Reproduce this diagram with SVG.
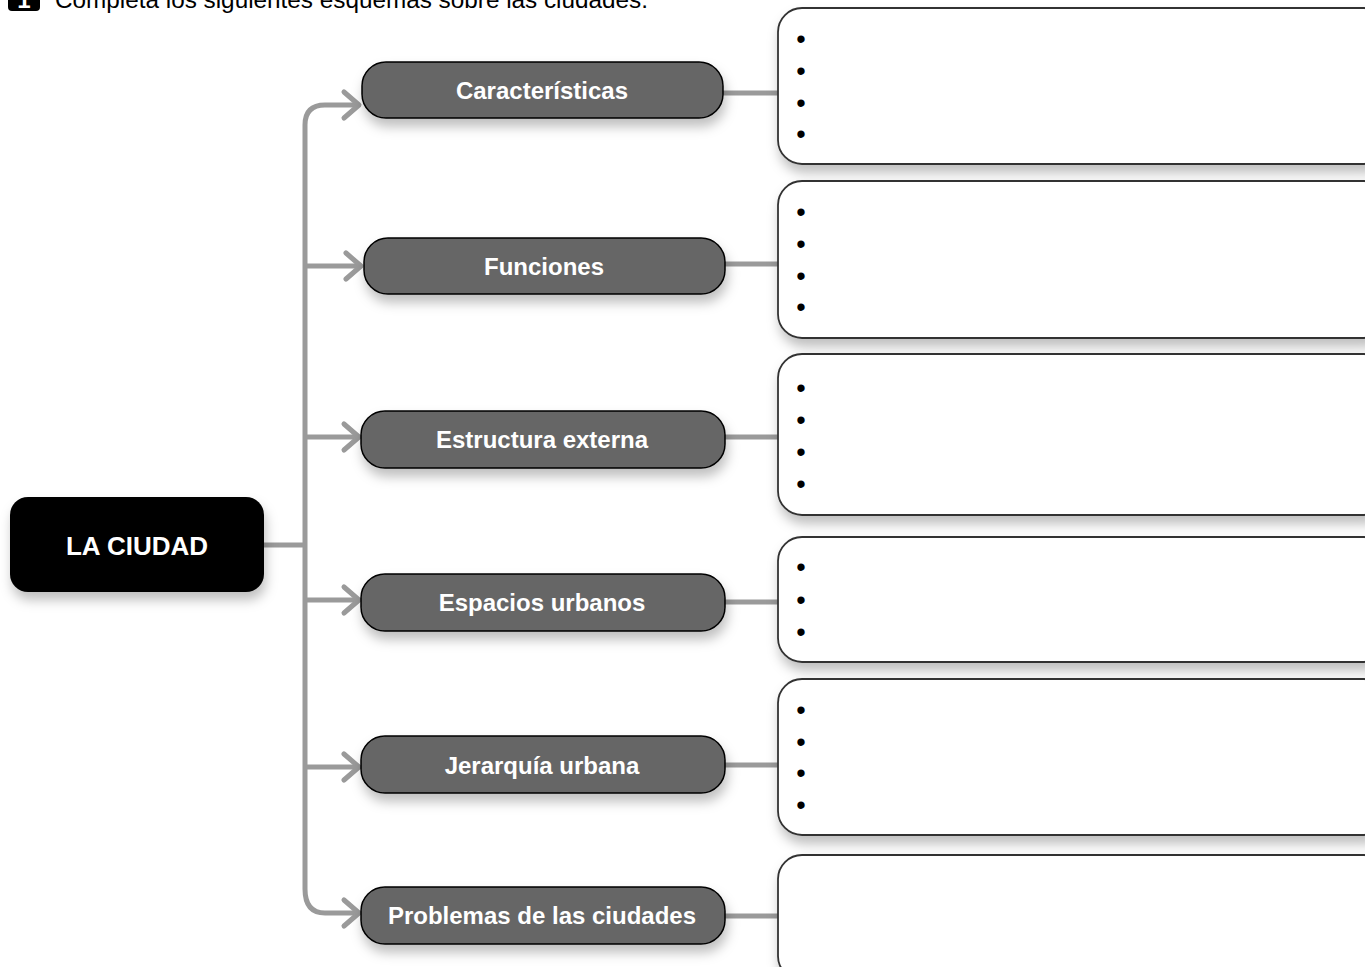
<svg xmlns="http://www.w3.org/2000/svg" width="1365" height="967" viewBox="0 0 1365 967">
<defs>
<filter id="sh" x="-10%" y="-20%" width="120%" height="160%">
<feDropShadow dx="2" dy="8" stdDeviation="6" flood-color="#000" flood-opacity="0.25"/>
</filter>
<style>
.node{fill:#666;stroke:#000;stroke-width:1.5;filter:url(#sh)}
.box{fill:#fff;stroke:#333;stroke-width:1.8;filter:url(#sh)}
.lbl{font-family:"Liberation Sans",Arial,sans-serif;font-weight:bold;font-size:24px;fill:#fff;text-anchor:middle}
.bul{font-family:"Liberation Sans",Arial,sans-serif;font-size:27px;fill:#000;text-anchor:middle}
.con{fill:none;stroke:#9a9a9a;stroke-width:5;stroke-linecap:butt}
.ah{fill:none;stroke:#9a9a9a;stroke-width:5;stroke-linecap:round;stroke-linejoin:round}
</style>
</defs>
<rect width="1365" height="967" fill="#fff"/>
<g id="header">
<rect x="8" y="-20" width="32" height="31" rx="4" fill="#000"/>
<text x="24" y="8" font-family="Liberation Sans,Arial,sans-serif" font-weight="bold" font-size="24" fill="#fff" text-anchor="middle">1</text>
<text x="55" y="8" font-family="Liberation Sans,Arial,sans-serif" font-size="24" fill="#000" textLength="593" lengthAdjust="spacingAndGlyphs">Completa los siguientes esquemas sobre las ciudades.</text>
</g>
<g id="connectors">
<path class="con" d="M264 545 H305"/>
<path class="con" d="M305 889 V125 Q305 105 325 105 H358"/>
<path class="con" d="M305 889 Q305 913 325 913 H358"/>
<path class="con" d="M305 266 H360"/>
<path class="con" d="M305 437 H358"/>
<path class="con" d="M305 600 H358"/>
<path class="con" d="M305 767 H358"/>
<path class="ah" d="M344 92 L359 105 L344 118"/>
<path class="ah" d="M346 253 L361 266 L346 279"/>
<path class="ah" d="M344 424 L359 437 L344 450"/>
<path class="ah" d="M344 587 L359 600 L344 613"/>
<path class="ah" d="M344 754 L359 767 L344 780"/>
<path class="ah" d="M344 900 L359 913 L344 926"/>
<path class="con" d="M723 93 H778"/>
<path class="con" d="M725 264 H778"/>
<path class="con" d="M725 437 H778"/>
<path class="con" d="M725 602 H778"/>
<path class="con" d="M725 765 H778"/>
<path class="con" d="M725 916 H778"/>
</g>
<g id="la-ciudad">
<rect x="10" y="497" width="254" height="95" rx="18" fill="#000" filter="url(#sh)"/>
<text class="lbl" x="137" y="555" style="font-size:26px">LA CIUDAD</text>
</g>
<g id="caracteristicas">
<rect class="node" x="362" y="62" width="361" height="56" rx="24"/>
<text class="lbl" x="542" y="99">Características</text>
</g>
<g id="funciones">
<rect class="node" x="364" y="238" width="361" height="56" rx="24"/>
<text class="lbl" x="544" y="275">Funciones</text>
</g>
<g id="estructura-externa">
<rect class="node" x="361" y="411" width="364" height="57" rx="24"/>
<text class="lbl" x="542" y="448">Estructura externa</text>
</g>
<g id="espacios-urbanos">
<rect class="node" x="361" y="574" width="364" height="57" rx="24"/>
<text class="lbl" x="542" y="611">Espacios urbanos</text>
</g>
<g id="jerarquia-urbana">
<rect class="node" x="361" y="736" width="364" height="57" rx="24"/>
<text class="lbl" x="542" y="774">Jerarquía urbana</text>
</g>
<g id="problemas">
<rect class="node" x="361" y="887" width="364" height="57" rx="24"/>
<text class="lbl" x="542" y="924">Problemas de las ciudades</text>
</g>
<g id="box-caracteristicas">
<rect class="box" x="778" y="8" width="610" height="156" rx="24"/>
<text class="bul" x="801" y="48">•</text><text class="bul" x="801" y="80">•</text><text class="bul" x="801" y="112">•</text><text class="bul" x="801" y="143">•</text>
</g>
<g id="box-funciones">
<rect class="box" x="778" y="181" width="610" height="157" rx="24"/>
<text class="bul" x="801" y="221">•</text><text class="bul" x="801" y="253">•</text><text class="bul" x="801" y="285">•</text><text class="bul" x="801" y="316">•</text>
</g>
<g id="box-estructura">
<rect class="box" x="778" y="354" width="610" height="161" rx="24"/>
<text class="bul" x="801" y="397">•</text><text class="bul" x="801" y="429">•</text><text class="bul" x="801" y="461">•</text><text class="bul" x="801" y="493">•</text>
</g>
<g id="box-espacios">
<rect class="box" x="778" y="537" width="610" height="125" rx="24"/>
<text class="bul" x="801" y="576">•</text><text class="bul" x="801" y="609">•</text><text class="bul" x="801" y="641">•</text>
</g>
<g id="box-jerarquia">
<rect class="box" x="778" y="679" width="610" height="156" rx="24"/>
<text class="bul" x="801" y="719">•</text><text class="bul" x="801" y="751">•</text><text class="bul" x="801" y="782">•</text><text class="bul" x="801" y="814">•</text>
</g>
<g id="box-problemas">
<rect class="box" x="778" y="855" width="610" height="125" rx="24"/>
</g>
</svg>
